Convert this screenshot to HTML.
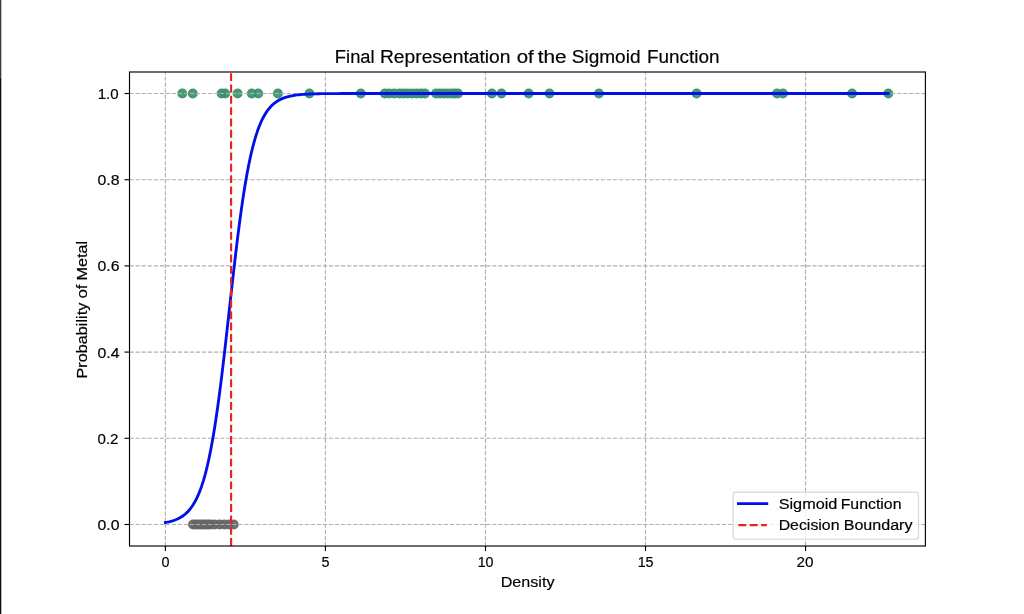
<!DOCTYPE html><html><head><meta charset="utf-8"><style>
html,body{margin:0;padding:0;background:#fff;width:1024px;height:614px;overflow:hidden;}
svg{display:block;}
text{font-family:"Liberation Sans",sans-serif;fill:#000;stroke:#000;stroke-width:0.18px;}
</style></head><body>
<svg width="1024" height="614" viewBox="0 0 1024 614">
<defs><filter id="gs" filterUnits="userSpaceOnUse" x="0" y="0" width="1024" height="614"><feOffset dx="0" dy="0"/></filter></defs>
<rect x="0" y="0" width="1024" height="614" fill="#ffffff"/>
<rect x="0" y="0" width="1.3" height="77.5" fill="#343945"/>
<rect x="0" y="77.5" width="1.3" height="536.5" fill="#0e0e0e"/>
<rect x="129.5" y="72.0" width="795.9" height="474.0" fill="#ffffff"/>
<g>
<circle cx="193.0" cy="524.50" r="4.27" fill="#666666" fill-opacity="0.9" stroke="#666666" stroke-opacity="0.9" stroke-width="1.42"/>
<circle cx="195.5" cy="524.50" r="4.27" fill="#666666" fill-opacity="0.9" stroke="#666666" stroke-opacity="0.9" stroke-width="1.42"/>
<circle cx="198.0" cy="524.50" r="4.27" fill="#666666" fill-opacity="0.9" stroke="#666666" stroke-opacity="0.9" stroke-width="1.42"/>
<circle cx="200.5" cy="524.50" r="4.27" fill="#666666" fill-opacity="0.9" stroke="#666666" stroke-opacity="0.9" stroke-width="1.42"/>
<circle cx="203.0" cy="524.50" r="4.27" fill="#666666" fill-opacity="0.9" stroke="#666666" stroke-opacity="0.9" stroke-width="1.42"/>
<circle cx="205.5" cy="524.50" r="4.27" fill="#666666" fill-opacity="0.9" stroke="#666666" stroke-opacity="0.9" stroke-width="1.42"/>
<circle cx="208.0" cy="524.50" r="4.27" fill="#666666" fill-opacity="0.9" stroke="#666666" stroke-opacity="0.9" stroke-width="1.42"/>
<circle cx="210.5" cy="524.50" r="4.27" fill="#666666" fill-opacity="0.9" stroke="#666666" stroke-opacity="0.9" stroke-width="1.42"/>
<circle cx="214.5" cy="524.50" r="4.27" fill="#666666" fill-opacity="0.9" stroke="#666666" stroke-opacity="0.9" stroke-width="1.42"/>
<circle cx="219.6" cy="524.50" r="4.27" fill="#666666" fill-opacity="0.9" stroke="#666666" stroke-opacity="0.9" stroke-width="1.42"/>
<circle cx="224.4" cy="524.50" r="4.27" fill="#666666" fill-opacity="0.9" stroke="#666666" stroke-opacity="0.9" stroke-width="1.42"/>
<circle cx="229.2" cy="524.50" r="4.27" fill="#666666" fill-opacity="0.9" stroke="#666666" stroke-opacity="0.9" stroke-width="1.42"/>
<circle cx="233.8" cy="524.50" r="4.27" fill="#666666" fill-opacity="0.9" stroke="#666666" stroke-opacity="0.9" stroke-width="1.42"/>
<circle cx="182.3" cy="93.50" r="4.27" fill="rgb(55,144,105)" fill-opacity="0.9" stroke="rgb(55,144,105)" stroke-opacity="0.9" stroke-width="1.42"/>
<circle cx="192.8" cy="93.50" r="4.27" fill="rgb(55,144,105)" fill-opacity="0.9" stroke="rgb(55,144,105)" stroke-opacity="0.9" stroke-width="1.42"/>
<circle cx="221.6" cy="93.50" r="4.27" fill="rgb(55,144,105)" fill-opacity="0.9" stroke="rgb(55,144,105)" stroke-opacity="0.9" stroke-width="1.42"/>
<circle cx="225.2" cy="93.50" r="4.27" fill="rgb(55,144,105)" fill-opacity="0.9" stroke="rgb(55,144,105)" stroke-opacity="0.9" stroke-width="1.42"/>
<circle cx="237.6" cy="93.50" r="4.27" fill="rgb(55,144,105)" fill-opacity="0.9" stroke="rgb(55,144,105)" stroke-opacity="0.9" stroke-width="1.42"/>
<circle cx="251.8" cy="93.50" r="4.27" fill="rgb(55,144,105)" fill-opacity="0.9" stroke="rgb(55,144,105)" stroke-opacity="0.9" stroke-width="1.42"/>
<circle cx="258.2" cy="93.50" r="4.27" fill="rgb(55,144,105)" fill-opacity="0.9" stroke="rgb(55,144,105)" stroke-opacity="0.9" stroke-width="1.42"/>
<circle cx="277.9" cy="93.50" r="4.27" fill="rgb(55,144,105)" fill-opacity="0.9" stroke="rgb(55,144,105)" stroke-opacity="0.9" stroke-width="1.42"/>
<circle cx="309.4" cy="93.50" r="4.27" fill="rgb(55,144,105)" fill-opacity="0.9" stroke="rgb(55,144,105)" stroke-opacity="0.9" stroke-width="1.42"/>
<circle cx="360.8" cy="93.50" r="4.27" fill="rgb(55,144,105)" fill-opacity="0.9" stroke="rgb(55,144,105)" stroke-opacity="0.9" stroke-width="1.42"/>
<circle cx="384.8" cy="93.50" r="4.27" fill="rgb(55,144,105)" fill-opacity="0.9" stroke="rgb(55,144,105)" stroke-opacity="0.9" stroke-width="1.42"/>
<circle cx="389.2" cy="93.50" r="4.27" fill="rgb(55,144,105)" fill-opacity="0.9" stroke="rgb(55,144,105)" stroke-opacity="0.9" stroke-width="1.42"/>
<circle cx="394.3" cy="93.50" r="4.27" fill="rgb(55,144,105)" fill-opacity="0.9" stroke="rgb(55,144,105)" stroke-opacity="0.9" stroke-width="1.42"/>
<circle cx="399.5" cy="93.50" r="4.27" fill="rgb(55,144,105)" fill-opacity="0.9" stroke="rgb(55,144,105)" stroke-opacity="0.9" stroke-width="1.42"/>
<circle cx="403.6" cy="93.50" r="4.27" fill="rgb(55,144,105)" fill-opacity="0.9" stroke="rgb(55,144,105)" stroke-opacity="0.9" stroke-width="1.42"/>
<circle cx="407.7" cy="93.50" r="4.27" fill="rgb(55,144,105)" fill-opacity="0.9" stroke="rgb(55,144,105)" stroke-opacity="0.9" stroke-width="1.42"/>
<circle cx="412.2" cy="93.50" r="4.27" fill="rgb(55,144,105)" fill-opacity="0.9" stroke="rgb(55,144,105)" stroke-opacity="0.9" stroke-width="1.42"/>
<circle cx="416.7" cy="93.50" r="4.27" fill="rgb(55,144,105)" fill-opacity="0.9" stroke="rgb(55,144,105)" stroke-opacity="0.9" stroke-width="1.42"/>
<circle cx="421.0" cy="93.50" r="4.27" fill="rgb(55,144,105)" fill-opacity="0.9" stroke="rgb(55,144,105)" stroke-opacity="0.9" stroke-width="1.42"/>
<circle cx="425.0" cy="93.50" r="4.27" fill="rgb(55,144,105)" fill-opacity="0.9" stroke="rgb(55,144,105)" stroke-opacity="0.9" stroke-width="1.42"/>
<circle cx="436.0" cy="93.50" r="4.27" fill="rgb(55,144,105)" fill-opacity="0.9" stroke="rgb(55,144,105)" stroke-opacity="0.9" stroke-width="1.42"/>
<circle cx="440.0" cy="93.50" r="4.27" fill="rgb(55,144,105)" fill-opacity="0.9" stroke="rgb(55,144,105)" stroke-opacity="0.9" stroke-width="1.42"/>
<circle cx="444.0" cy="93.50" r="4.27" fill="rgb(55,144,105)" fill-opacity="0.9" stroke="rgb(55,144,105)" stroke-opacity="0.9" stroke-width="1.42"/>
<circle cx="448.0" cy="93.50" r="4.27" fill="rgb(55,144,105)" fill-opacity="0.9" stroke="rgb(55,144,105)" stroke-opacity="0.9" stroke-width="1.42"/>
<circle cx="452.0" cy="93.50" r="4.27" fill="rgb(55,144,105)" fill-opacity="0.9" stroke="rgb(55,144,105)" stroke-opacity="0.9" stroke-width="1.42"/>
<circle cx="455.0" cy="93.50" r="4.27" fill="rgb(55,144,105)" fill-opacity="0.9" stroke="rgb(55,144,105)" stroke-opacity="0.9" stroke-width="1.42"/>
<circle cx="458.0" cy="93.50" r="4.27" fill="rgb(55,144,105)" fill-opacity="0.9" stroke="rgb(55,144,105)" stroke-opacity="0.9" stroke-width="1.42"/>
<circle cx="491.9" cy="93.50" r="4.27" fill="rgb(55,144,105)" fill-opacity="0.9" stroke="rgb(55,144,105)" stroke-opacity="0.9" stroke-width="1.42"/>
<circle cx="501.5" cy="93.50" r="4.27" fill="rgb(55,144,105)" fill-opacity="0.9" stroke="rgb(55,144,105)" stroke-opacity="0.9" stroke-width="1.42"/>
<circle cx="528.7" cy="93.50" r="4.27" fill="rgb(55,144,105)" fill-opacity="0.9" stroke="rgb(55,144,105)" stroke-opacity="0.9" stroke-width="1.42"/>
<circle cx="549.5" cy="93.50" r="4.27" fill="rgb(55,144,105)" fill-opacity="0.9" stroke="rgb(55,144,105)" stroke-opacity="0.9" stroke-width="1.42"/>
<circle cx="598.9" cy="93.50" r="4.27" fill="rgb(55,144,105)" fill-opacity="0.9" stroke="rgb(55,144,105)" stroke-opacity="0.9" stroke-width="1.42"/>
<circle cx="696.6" cy="93.50" r="4.27" fill="rgb(55,144,105)" fill-opacity="0.9" stroke="rgb(55,144,105)" stroke-opacity="0.9" stroke-width="1.42"/>
<circle cx="777.0" cy="93.50" r="4.27" fill="rgb(55,144,105)" fill-opacity="0.9" stroke="rgb(55,144,105)" stroke-opacity="0.9" stroke-width="1.42"/>
<circle cx="783.0" cy="93.50" r="4.27" fill="rgb(55,144,105)" fill-opacity="0.9" stroke="rgb(55,144,105)" stroke-opacity="0.9" stroke-width="1.42"/>
<circle cx="852.1" cy="93.50" r="4.27" fill="rgb(55,144,105)" fill-opacity="0.9" stroke="rgb(55,144,105)" stroke-opacity="0.9" stroke-width="1.42"/>
<circle cx="888.3" cy="93.50" r="4.27" fill="rgb(55,144,105)" fill-opacity="0.9" stroke="rgb(55,144,105)" stroke-opacity="0.9" stroke-width="1.42"/>
</g>
<g stroke="#b0b0b0" stroke-width="1.14" stroke-dasharray="4.227 1.817" fill="none">
<line x1="165.40" y1="546.0" x2="165.40" y2="72.0"/>
<line x1="325.44" y1="546.0" x2="325.44" y2="72.0"/>
<line x1="485.48" y1="546.0" x2="485.48" y2="72.0"/>
<line x1="645.51" y1="546.0" x2="645.51" y2="72.0"/>
<line x1="805.55" y1="546.0" x2="805.55" y2="72.0"/>
<line x1="129.5" y1="524.50" x2="925.4" y2="524.50"/>
<line x1="129.5" y1="438.30" x2="925.4" y2="438.30"/>
<line x1="129.5" y1="352.10" x2="925.4" y2="352.10"/>
<line x1="129.5" y1="265.90" x2="925.4" y2="265.90"/>
<line x1="129.5" y1="179.70" x2="925.4" y2="179.70"/>
<line x1="129.5" y1="93.50" x2="925.4" y2="93.50"/>
</g>
<polyline points="165.40,522.48 167.21,522.16 169.01,521.78 170.82,521.33 172.63,520.82 174.43,520.23 176.24,519.54 178.05,518.74 179.85,517.81 181.66,516.74 183.47,515.49 185.28,514.06 187.08,512.40 188.89,510.49 190.70,508.29 192.50,505.75 194.31,502.85 196.12,499.52 197.92,495.71 199.73,491.37 201.54,486.43 203.34,480.84 205.15,474.54 206.96,467.46 208.76,459.55 210.57,450.76 212.38,441.04 214.18,430.39 215.99,418.79 217.80,406.26 219.60,392.85 221.41,378.62 223.22,363.68 225.03,348.16 226.83,332.21 228.64,316.00 230.45,299.71 232.25,283.52 234.06,267.62 235.87,252.17 237.67,237.33 239.48,223.21 241.29,209.92 243.09,197.52 244.90,186.05 246.71,175.53 248.51,165.95 250.32,157.28 252.13,149.49 253.93,142.53 255.74,136.33 257.55,130.83 259.35,125.99 261.16,121.73 262.97,117.99 264.78,114.72 266.58,111.87 268.39,109.38 270.20,107.22 272.00,105.35 273.81,103.73 275.62,102.32 277.42,101.10 279.23,100.05 281.04,99.14 282.84,98.36 284.65,97.68 286.46,97.10 288.26,96.60 290.07,96.17 291.88,95.80 293.68,95.47 295.49,95.20 297.30,94.96 299.10,94.76 300.91,94.58 302.72,94.43 304.53,94.30 306.33,94.19 308.14,94.09 309.95,94.01 311.75,93.94 313.56,93.88 315.37,93.82 317.17,93.78 318.98,93.74 320.79,93.70 322.59,93.68 324.40,93.65 326.21,93.63 328.01,93.61 329.82,93.60 331.63,93.58 333.43,93.57 335.24,93.56 337.05,93.55 338.86,93.55 340.66,93.54 342.47,93.53 344.28,93.53 346.08,93.52 347.89,93.52 349.70,93.52 351.50,93.52 353.31,93.51 355.12,93.51 356.92,93.51 358.73,93.51 360.54,93.51 362.34,93.51 364.15,93.51 365.96,93.50 367.76,93.50 369.57,93.50 371.38,93.50 373.18,93.50 374.99,93.50 376.80,93.50 378.61,93.50 380.41,93.50 382.22,93.50 384.03,93.50 385.83,93.50 387.64,93.50 389.45,93.50 391.25,93.50 393.06,93.50 394.87,93.50 396.67,93.50 398.48,93.50 400.29,93.50 402.09,93.50 403.90,93.50 405.71,93.50 407.51,93.50 409.32,93.50 411.13,93.50 412.93,93.50 414.74,93.50 416.55,93.50 418.36,93.50 420.16,93.50 421.97,93.50 423.78,93.50 425.58,93.50 427.39,93.50 429.20,93.50 431.00,93.50 432.81,93.50 434.62,93.50 436.42,93.50 438.23,93.50 440.04,93.50 441.84,93.50 443.65,93.50 445.46,93.50 447.26,93.50 449.07,93.50 450.88,93.50 452.68,93.50 454.49,93.50 456.30,93.50 458.11,93.50 459.91,93.50 461.72,93.50 463.53,93.50 465.33,93.50 467.14,93.50 468.95,93.50 470.75,93.50 472.56,93.50 474.37,93.50 476.17,93.50 477.98,93.50 479.79,93.50 481.59,93.50 483.40,93.50 485.21,93.50 487.01,93.50 488.82,93.50 490.63,93.50 492.44,93.50 494.24,93.50 496.05,93.50 497.86,93.50 499.66,93.50 501.47,93.50 503.28,93.50 505.08,93.50 506.89,93.50 508.70,93.50 510.50,93.50 512.31,93.50 514.12,93.50 515.92,93.50 517.73,93.50 519.54,93.50 521.34,93.50 523.15,93.50 524.96,93.50 526.76,93.50 528.57,93.50 530.38,93.50 532.19,93.50 533.99,93.50 535.80,93.50 537.61,93.50 539.41,93.50 541.22,93.50 543.03,93.50 544.83,93.50 546.64,93.50 548.45,93.50 550.25,93.50 552.06,93.50 553.87,93.50 555.67,93.50 557.48,93.50 559.29,93.50 561.09,93.50 562.90,93.50 564.71,93.50 566.51,93.50 568.32,93.50 570.13,93.50 571.94,93.50 573.74,93.50 575.55,93.50 577.36,93.50 579.16,93.50 580.97,93.50 582.78,93.50 584.58,93.50 586.39,93.50 588.20,93.50 590.00,93.50 591.81,93.50 593.62,93.50 595.42,93.50 597.23,93.50 599.04,93.50 600.84,93.50 602.65,93.50 604.46,93.50 606.26,93.50 608.07,93.50 609.88,93.50 611.69,93.50 613.49,93.50 615.30,93.50 617.11,93.50 618.91,93.50 620.72,93.50 622.53,93.50 624.33,93.50 626.14,93.50 627.95,93.50 629.75,93.50 631.56,93.50 633.37,93.50 635.17,93.50 636.98,93.50 638.79,93.50 640.59,93.50 642.40,93.50 644.21,93.50 646.02,93.50 647.82,93.50 649.63,93.50 651.44,93.50 653.24,93.50 655.05,93.50 656.86,93.50 658.66,93.50 660.47,93.50 662.28,93.50 664.08,93.50 665.89,93.50 667.70,93.50 669.50,93.50 671.31,93.50 673.12,93.50 674.92,93.50 676.73,93.50 678.54,93.50 680.34,93.50 682.15,93.50 683.96,93.50 685.77,93.50 687.57,93.50 689.38,93.50 691.19,93.50 692.99,93.50 694.80,93.50 696.61,93.50 698.41,93.50 700.22,93.50 702.03,93.50 703.83,93.50 705.64,93.50 707.45,93.50 709.25,93.50 711.06,93.50 712.87,93.50 714.67,93.50 716.48,93.50 718.29,93.50 720.09,93.50 721.90,93.50 723.71,93.50 725.52,93.50 727.32,93.50 729.13,93.50 730.94,93.50 732.74,93.50 734.55,93.50 736.36,93.50 738.16,93.50 739.97,93.50 741.78,93.50 743.58,93.50 745.39,93.50 747.20,93.50 749.00,93.50 750.81,93.50 752.62,93.50 754.42,93.50 756.23,93.50 758.04,93.50 759.84,93.50 761.65,93.50 763.46,93.50 765.27,93.50 767.07,93.50 768.88,93.50 770.69,93.50 772.49,93.50 774.30,93.50 776.11,93.50 777.91,93.50 779.72,93.50 781.53,93.50 783.33,93.50 785.14,93.50 786.95,93.50 788.75,93.50 790.56,93.50 792.37,93.50 794.17,93.50 795.98,93.50 797.79,93.50 799.60,93.50 801.40,93.50 803.21,93.50 805.02,93.50 806.82,93.50 808.63,93.50 810.44,93.50 812.24,93.50 814.05,93.50 815.86,93.50 817.66,93.50 819.47,93.50 821.28,93.50 823.08,93.50 824.89,93.50 826.70,93.50 828.50,93.50 830.31,93.50 832.12,93.50 833.92,93.50 835.73,93.50 837.54,93.50 839.35,93.50 841.15,93.50 842.96,93.50 844.77,93.50 846.57,93.50 848.38,93.50 850.19,93.50 851.99,93.50 853.80,93.50 855.61,93.50 857.41,93.50 859.22,93.50 861.03,93.50 862.83,93.50 864.64,93.50 866.45,93.50 868.25,93.50 870.06,93.50 871.87,93.50 873.67,93.50 875.48,93.50 877.29,93.50 879.10,93.50 880.90,93.50 882.71,93.50 884.52,93.50 886.32,93.50 888.13,93.50" fill="none" stroke="#0010e8" stroke-width="2.85" stroke-linecap="square" stroke-linejoin="round"/>
<line x1="231.1" y1="546.0" x2="231.1" y2="72.0" stroke="#e8221c" stroke-width="2.13" stroke-dasharray="7.92 3.42"/>
<rect x="129.5" y="72.0" width="795.9" height="474.0" fill="none" stroke="#000" stroke-width="1.14"/>
<g stroke="#000" stroke-width="1.14">
<line x1="165.40" y1="546.0" x2="165.40" y2="550.98"/>
<line x1="325.44" y1="546.0" x2="325.44" y2="550.98"/>
<line x1="485.48" y1="546.0" x2="485.48" y2="550.98"/>
<line x1="645.51" y1="546.0" x2="645.51" y2="550.98"/>
<line x1="805.55" y1="546.0" x2="805.55" y2="550.98"/>
<line x1="129.5" y1="524.50" x2="124.52" y2="524.50"/>
<line x1="129.5" y1="438.30" x2="124.52" y2="438.30"/>
<line x1="129.5" y1="352.10" x2="124.52" y2="352.10"/>
<line x1="129.5" y1="265.90" x2="124.52" y2="265.90"/>
<line x1="129.5" y1="179.70" x2="124.52" y2="179.70"/>
<line x1="129.5" y1="93.50" x2="124.52" y2="93.50"/>
</g>
<g filter="url(#gs)">
<text x="334.88" y="63.00" font-size="17.92" textLength="39.74" lengthAdjust="spacingAndGlyphs">Final</text>
<text x="379.92" y="63.00" font-size="17.92" textLength="130.64" lengthAdjust="spacingAndGlyphs">Representation</text>
<text x="516.72" y="63.00" font-size="17.92" textLength="17.06" lengthAdjust="spacingAndGlyphs">of</text>
<text x="537.71" y="63.00" font-size="17.92" textLength="28.90" lengthAdjust="spacingAndGlyphs">the</text>
<text x="571.71" y="63.00" font-size="17.92" textLength="68.85" lengthAdjust="spacingAndGlyphs">Sigmoid</text>
<text x="646.92" y="63.00" font-size="17.92" textLength="72.66" lengthAdjust="spacingAndGlyphs">Function</text>
<text x="500.68" y="587.00" font-size="14.93" textLength="53.83" lengthAdjust="spacingAndGlyphs">Density</text>
<text transform="translate(87.00,280.60) rotate(-90)" x="0" y="0" font-size="14.93" textLength="39.76" lengthAdjust="spacingAndGlyphs">Metal</text>
<text transform="translate(87.00,298.62) rotate(-90)" x="0" y="0" font-size="14.93" textLength="14.16" lengthAdjust="spacingAndGlyphs">of</text>
<text transform="translate(87.00,378.56) rotate(-90)" x="0" y="0" font-size="14.93" textLength="75.85" lengthAdjust="spacingAndGlyphs">Probability</text>
<text x="97.50" y="530.00" font-size="15.14" textLength="22.00" lengthAdjust="spacingAndGlyphs">0.0</text>
<text x="97.50" y="444.00" font-size="15.14" textLength="21.00" lengthAdjust="spacingAndGlyphs">0.2</text>
<text x="97.50" y="358.00" font-size="15.14" textLength="22.00" lengthAdjust="spacingAndGlyphs">0.4</text>
<text x="97.50" y="271.00" font-size="15.14" textLength="22.00" lengthAdjust="spacingAndGlyphs">0.6</text>
<text x="97.50" y="185.00" font-size="15.14" textLength="22.00" lengthAdjust="spacingAndGlyphs">0.8</text>
<text x="97.65" y="99.00" font-size="15.14" textLength="20.89" lengthAdjust="spacingAndGlyphs">1.0</text>
<text x="161.50" y="567.00" font-size="15.14" textLength="8.00" lengthAdjust="spacingAndGlyphs">0</text>
<text x="321.50" y="567.00" font-size="15.14" textLength="8.00" lengthAdjust="spacingAndGlyphs">5</text>
<text x="477.63" y="567.00" font-size="15.14" textLength="15.92" lengthAdjust="spacingAndGlyphs">10</text>
<text x="637.63" y="567.00" font-size="15.14" textLength="15.92" lengthAdjust="spacingAndGlyphs">15</text>
<text x="796.50" y="567.00" font-size="15.14" textLength="17.00" lengthAdjust="spacingAndGlyphs">20</text>
</g>
<rect x="733.1" y="492.1" width="185.40" height="47.20" rx="2.8" ry="2.8" fill="#ffffff" fill-opacity="0.8" stroke="#cccccc" stroke-opacity="0.8" stroke-width="1.14"/>
<line x1="738.4" y1="503.6" x2="766.8" y2="503.6" stroke="#0010e8" stroke-width="2.85" stroke-linecap="square"/>
<line x1="738.4" y1="525.1" x2="766.8" y2="525.1" stroke="#e8221c" stroke-width="2.13" stroke-dasharray="7.92 3.42"/>
<g filter="url(#gs)">
<text x="778.66" y="509.00" font-size="14.93" textLength="58.69" lengthAdjust="spacingAndGlyphs">Sigmoid</text>
<text x="840.68" y="509.00" font-size="14.93" textLength="60.83" lengthAdjust="spacingAndGlyphs">Function</text>
<text x="778.68" y="530.00" font-size="14.93" textLength="60.83" lengthAdjust="spacingAndGlyphs">Decision</text>
<text x="843.69" y="530.00" font-size="14.93" textLength="68.82" lengthAdjust="spacingAndGlyphs">Boundary</text>
</g>
</svg></body></html>
